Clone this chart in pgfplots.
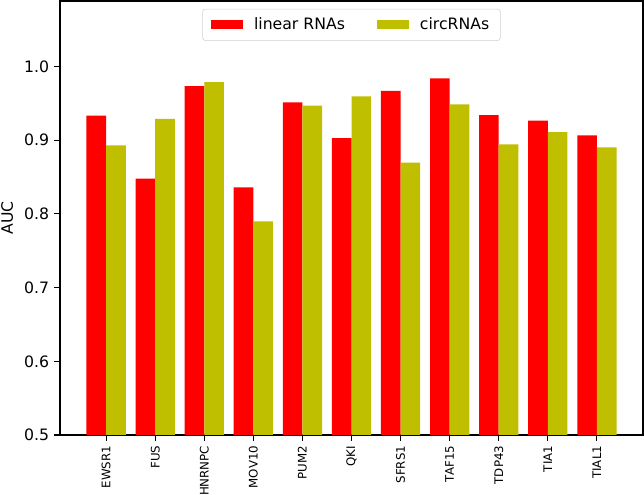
\documentclass[border=0pt]{standalone}
\usepackage{pgfplots}
\pgfplotsset{compat=1.18}
\usepackage{fontspec}
\setmainfont{DejaVu Sans}
\definecolor{myred}{RGB}{255,0,0}
\definecolor{myyel}{RGB}{191,191,0}
\begin{document}
\begin{tikzpicture}
\useasboundingbox (-43.2pt,-42.5pt) rectangle (420.5pt,313.2pt);
\begin{axis}[
  at={(0,0)}, anchor=south west,
  scale only axis, width=419.8pt, height=312.5pt,
  xmin=-0.94, xmax=10.94, ymin=0.5, ymax=1.089,
  axis line style={line width=0.8pt},
  tick align=outside, major tick length=4.3pt,
  tick style={line width=0.8pt, black},
  xtick={0,...,10},
  xticklabels={EWSR1,FUS,HNRNPC,MOV10,PUM2,QKI,SFRS1,TAF15,TDP43,TIA1,TIAL1},
  xticklabel style={rotate=90, anchor=east, font=\fontsize{8.5}{10}\selectfont},
  ytick={0.5,0.6,0.7,0.8,0.9,1.0},
  /pgf/number format/fixed, /pgf/number format/fixed zerofill,
  /pgf/number format/precision=1, /pgf/number format/assume math mode=true,
  yticklabel style={font=\fontsize{11.3}{13}\selectfont},
  ylabel={AUC},
  ylabel style={at={(axis description cs:0,0.5)}, anchor=center, yshift=38pt, font=\fontsize{11.3}{13}\selectfont},
  legend style={at={(axis description cs:0.5,0.982)}, anchor=north, legend columns=2,
    draw=black!18, rounded corners=2pt, font=\fontsize{11.3}{13}\selectfont,
    /tikz/every even column/.append style={column sep=21pt},
    /tikz/every odd column/.append style={column sep=6pt},
    inner xsep=6pt, inner ysep=4.3pt},
  legend image code/.code={\fill[#1, sharp corners] (0pt,-3.35pt) rectangle (23pt,3.35pt);},
]
\addplot[ybar, bar width=0.4, bar shift=-0.2, fill=myred, draw=none] coordinates {
(0,0.9333) (1,0.848) (2,0.9735) (3,0.836) (4,0.9514) (5,0.903) (6,0.967) (7,0.984) (8,0.9342) (9,0.9265) (10,0.9067)};
\addlegendentry{linear RNAs}
\addplot[ybar, bar width=0.4, bar shift=0.2, fill=myyel, draw=none] coordinates {
(0,0.893) (1,0.929) (2,0.979) (3,0.790) (4,0.947) (5,0.9596) (6,0.8695) (7,0.9487) (8,0.8944) (9,0.911) (10,0.8904)};
\addlegendentry{circRNAs}
\end{axis}
\end{tikzpicture}
\end{document}
